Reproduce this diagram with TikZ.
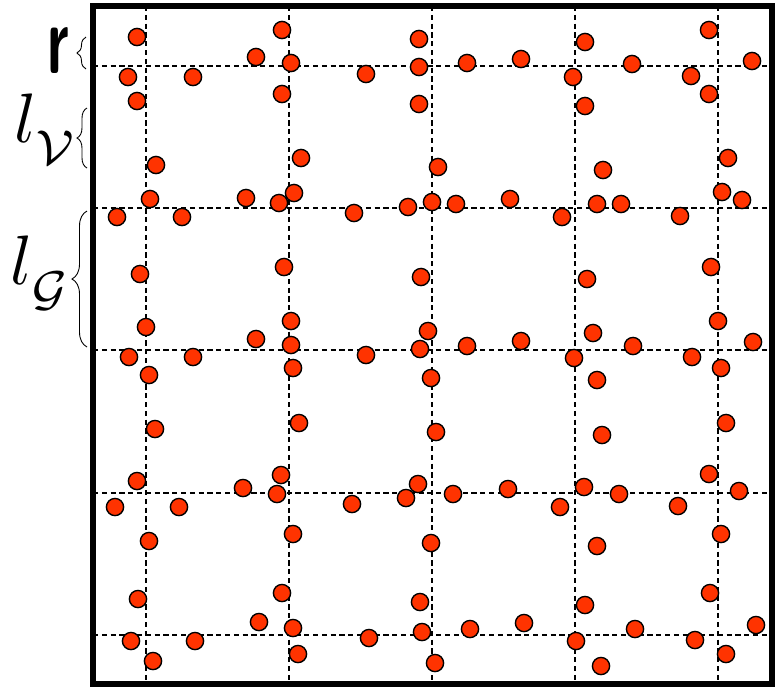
\documentclass[tikz,border=0pt]{standalone}
\usepackage{xcolor}
\usepackage{tikz}
\usepackage{amsmath}
\usepackage{amssymb}
\usetikzlibrary{
  positioning,
  calc,
  decorations.pathreplacing
}
\definecolor{gdSite}{HTML}{FF3300}
\definecolor{gdLine}{HTML}{000000}
\newcommand{\lowsub}[1]{\lower1.6pt\hbox{$\scriptstyle#1$}}
\tikzset{
  site/.style={
    draw=gdLine, circle, fill=gdSite, line width=0.7pt,
    minimum size=8.6pt, inner sep=0pt
  },
  gridline/.style={draw=gdLine, dash pattern=on 2.6pt off 1.8pt, line width=0.8pt},
  framebox/.style={draw=gdLine, line width=3pt},
  sizebrace/.style={decorate, decoration={brace, amplitude=#1}, line width=0.45pt},
  sizelabel/.style={inner sep=0pt}
}

\begin{document}
\begin{tikzpicture}[x=0.5pt, y=-0.5pt]
  \useasboundingbox (0,0) rectangle (779,687);
  % dashed cell lines
  \foreach \gx in {146,289,432,575,718}
    \draw[gridline] (\gx,6) -- (\gx,684);
  \foreach \gy in {66,208,350,493,635}
    \draw[gridline] (93,\gy) -- (772,\gy);
  % particles
  \foreach \sx/\sy [count=\i] in {
      137/37, 282/30, 419/39, 585/42, 709/30,
      128/77, 193/77, 256/57, 291/63, 366/74, 419/67, 467/63, 521/59, 573/77, 632/64, 691/76, 752/61,
      137/101, 282/94, 419/104, 585/106, 709/94,
      156/165, 301/158, 438/167, 603/170, 728/158,
      150/199, 246/198, 117/217, 182/217, 294/193, 279/203, 354/213, 408/207, 432/202, 456/204,
      510/199, 562/217, 597/204, 621/204, 680/216, 722/192, 742/200,
      140/274, 284/267, 421/277, 587/279, 711/267,
      146/327, 291/321, 428/331, 593/333, 718/321,
      129/357, 193/357, 256/339, 291/345, 366/355, 420/349, 467/346, 521/341, 574/358, 633/346, 692/357, 753/342,
      149/375, 293/368, 431/378, 597/380, 721/368,
      155/429, 299/423, 436/432, 602/435, 726/423,
      137/481, 243/488, 281/475, 277/494, 115/507, 179/507, 352/504, 418/484, 406/498, 453/494,
      508/489, 560/507, 584/487, 619/494, 678/506, 709/474, 739/491,
      149/541, 293/534, 431/543, 597/546, 721/534,
      138/599, 282/593, 420/602, 585/605, 710/593,
      131/641, 195/641, 259/622, 293/628, 369/638, 422/632, 470/629, 524/623, 576/641, 635/629, 695/640, 756/625,
      153/661, 298/654, 435/663, 601/666, 726/654}
    \node[site] (s\i) at (\sx,\sy) {};
  % box
  \draw[framebox] (93,6) rectangle (772,684);
  % length braces
  \coordinate (rbot) at (86,69);
  \coordinate (rtop) at (86,37);
  \coordinate (vbot) at (87,168);
  \coordinate (vtop) at (87,108);
  \coordinate (gbot) at (87,347);
  \coordinate (gtop) at (87,211);
  \draw[sizebrace=4.5pt] (rbot) -- (rtop);
  \draw[sizebrace=5pt] (vbot) -- (vtop);
  \draw[sizebrace=7.5pt] (gbot) -- (gtop);
  \node[sizelabel, font=\sffamily\bfseries, xscale=2.9, yscale=4.9] (rlab) at (58,51) {r};
  \node[sizelabel, scale=3.5] (vlab) at (46,129) {$l_{\lowsub{\mathcal{V}}}$};
  \node[sizelabel, scale=3.5] (glab) at (41,273) {$l_{\lowsub{\mathcal{G}}}$};
\end{tikzpicture}
\end{document}
